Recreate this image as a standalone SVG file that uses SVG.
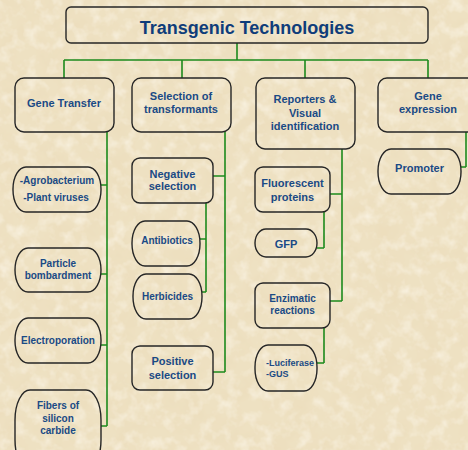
<svg xmlns="http://www.w3.org/2000/svg" width="468" height="450" viewBox="0 0 468 450">
  <defs>
    <filter id="paper" x="0" y="0" width="100%" height="100%" filterUnits="userSpaceOnUse">
      <feTurbulence type="fractalNoise" baseFrequency="0.045" numOctaves="4" seed="7" result="n"/>
      <feColorMatrix in="n" type="matrix" values="0 0 0 0 0.84  0 0 0 0 0.72  0 0 0 0 0.50  1.5 0 0 0 -0.55"/>
    </filter>
    <filter id="paperLight" x="0" y="0" width="100%" height="100%" filterUnits="userSpaceOnUse">
      <feTurbulence type="fractalNoise" baseFrequency="0.08" numOctaves="3" seed="21" result="n"/>
      <feColorMatrix in="n" type="matrix" values="0 0 0 0 1  0 0 0 0 0.97  0 0 0 0 0.90  1.2 0 0 0 -0.55"/>
    </filter>
    <style>
      .box { fill: none; stroke: #262626; stroke-width: 1.4; }
      .link { fill: none; stroke: #1d8a1d; stroke-width: 1.6; }
      text { font-family: "Liberation Sans", Arial, sans-serif; font-weight: bold; fill: #1a4a85; text-anchor: middle; }
      .t11 { font-size: 11px; }
      .t10 { font-size: 10px; }
      .t9 { font-size: 9px; text-anchor: start; }
      .title { font-size: 18px; fill: #0f3d7a; }
    </style>
  </defs>

  <!-- parchment background -->
  <rect x="0" y="0" width="468" height="450" fill="#eee1c2"/>
  <rect x="0" y="0" width="468" height="450" filter="url(#paper)"/>
  <rect x="0" y="0" width="468" height="450" filter="url(#paperLight)"/>

  <!-- connectors -->
  <g id="connectors">
    <path class="link" d="M237,43 V60 M64,60 H428 M64,60 V78 M182,60 V78 M305,60 V78 M428,60 V78"/>
    <path class="link" d="M107,132 V426 M101,185 H107 M101,274 H107 M101,345 H107 M101,426 H107"/>
    <path class="link" d="M225,132 V372 M213,176 H225 M213,372 H225"/>
    <path class="link" d="M206,203 V292 M200,239 H206 M202,292 H206"/>
    <path class="link" d="M342,149 V301 M330,194 H342 M330,301 H342"/>
    <path class="link" d="M324,212 V248 M317,248 H324"/>
    <path class="link" d="M324,328 V363 M317,363 H324"/>
    <path class="link" d="M466,132 V167 M461,167 H466"/>
  </g>

  <g id="title">
    <rect class="box" x="66" y="7" width="362" height="36" rx="5"/>
    <text class="title" x="247" y="34">Transgenic Technologies</text>
  </g>

  <g id="gene-transfer">
    <rect class="box" x="15" y="78" width="99" height="54" rx="9"/>
    <text class="t11" x="64" y="107">Gene Transfer</text>
  </g>

  <g id="selection">
    <rect class="box" x="132" y="78" width="99" height="54" rx="9"/>
    <text class="t11" x="181" y="100">Selection of</text>
    <text class="t11" x="181" y="113">transformants</text>
  </g>

  <g id="reporters">
    <rect class="box" x="256" y="78" width="99" height="71" rx="9"/>
    <text class="t11" x="305" y="103">Reporters &amp;</text>
    <text class="t11" x="305" y="117">Visual</text>
    <text class="t11" x="305" y="130">identification</text>
  </g>

  <g id="gene-expression">
    <rect class="box" x="378" y="78" width="99" height="54" rx="9"/>
    <text class="t11" x="428" y="100">Gene</text>
    <text class="t11" x="428" y="113">expression</text>
  </g>

  <g id="agrobacterium">
    <rect class="box" x="13" y="167" width="88" height="45" rx="13" ry="22"/>
    <text class="t10" x="57" y="184">-Agrobacterium</text>
    <text class="t10" x="56" y="201">-Plant viruses</text>
  </g>

  <g id="particle-bombardment">
    <rect class="box" x="15" y="248" width="86" height="44" rx="13" ry="22"/>
    <text class="t10" x="58" y="267">Particle</text>
    <text class="t10" x="58" y="279">bombardment</text>
  </g>

  <g id="electroporation">
    <rect class="box" x="15" y="318" width="86" height="45" rx="13" ry="22"/>
    <text class="t10" x="58" y="344">Electroporation</text>
  </g>

  <g id="silicon-carbide">
    <rect class="box" x="15" y="390" width="86" height="80" rx="15" ry="30"/>
    <text class="t10" x="58" y="409">Fibers of</text>
    <text class="t10" x="58" y="422">silicon</text>
    <text class="t10" x="58" y="434">carbide</text>
  </g>

  <g id="negative-selection">
    <rect class="box" x="132" y="158" width="81" height="45" rx="8"/>
    <text class="t11" x="172.5" y="178">Negative</text>
    <text class="t11" x="172.5" y="190">selection</text>
  </g>

  <g id="antibiotics">
    <rect class="box" x="132" y="221" width="68" height="45" rx="13" ry="22"/>
    <text class="t10" x="167" y="244">Antibiotics</text>
  </g>

  <g id="herbicides">
    <rect class="box" x="133" y="274" width="69" height="45" rx="13" ry="22"/>
    <text class="t10" x="167.5" y="300">Herbicides</text>
  </g>

  <g id="positive-selection">
    <rect class="box" x="132" y="346" width="81" height="44" rx="8"/>
    <text class="t11" x="172.5" y="365">Positive</text>
    <text class="t11" x="172.5" y="379">selection</text>
  </g>

  <g id="fluorescent-proteins">
    <rect class="box" x="255" y="167" width="75" height="45" rx="8"/>
    <text class="t11" x="292.5" y="187">Fluorescent</text>
    <text class="t11" x="292.5" y="201">proteins</text>
  </g>

  <g id="gfp">
    <rect class="box" x="255" y="229" width="62" height="28" rx="11" ry="14"/>
    <text class="t11" x="286" y="248">GFP</text>
  </g>

  <g id="enzimatic-reactions">
    <rect class="box" x="255" y="283" width="75" height="45" rx="8"/>
    <text class="t10" x="292.5" y="302">Enzimatic</text>
    <text class="t10" x="292.5" y="314">reactions</text>
  </g>

  <g id="luciferase-gus">
    <rect class="box" x="255" y="345" width="62" height="46" rx="13" ry="22"/>
    <text class="t9" x="266" y="366">-Luciferase</text>
    <text class="t9" x="266" y="377">-GUS</text>
  </g>

  <g id="promoter">
    <rect class="box" x="378" y="149" width="83" height="45" rx="13" ry="22"/>
    <text class="t11" x="419.5" y="172">Promoter</text>
  </g>
</svg>
